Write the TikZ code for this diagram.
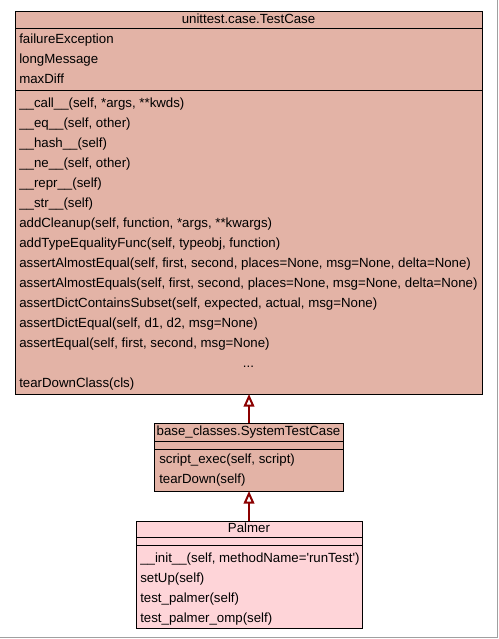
\documentclass[tikz,border=0pt]{standalone}
\usepackage{fontspec}
\setmainfont{Liberation Sans}
\usetikzlibrary{arrows.meta}
\definecolor{basefill}{RGB}{227,179,166}
\definecolor{palfill}{RGB}{254,212,216}
\definecolor{edgered}{RGB}{139,0,0}
\definecolor{framegray}{RGB}{160,160,160}
\begin{document}
\begin{tikzpicture}[x=0.75pt,y=-0.75pt,
  classbox/.style={draw=black, line width=0.75pt, anchor=north west, inner sep=0pt, outer sep=0pt},
  sep/.style={draw=black, line width=0.75pt},
  txt/.style={anchor=base west, inner sep=0pt, font=\fontsize{9.95pt}{11pt}\selectfont},
  ttl/.style={anchor=base, inner sep=0pt, font=\fontsize{9.95pt}{11pt}\selectfont},
  inherit/.style={draw=edgered, line width=1.5pt, -{Triangle[open, length=9.5pt, width=8pt, line width=1.5pt]}}
]
\useasboundingbox (0,0) rectangle (499,639);
\fill[white] (0,0) rectangle (499,639);
\draw[framegray, line width=0.75pt] (497.5,0) -- (497.5,637.5) -- (0,637.5);

% unittest.case.TestCase
\node[classbox, fill=basefill, minimum width=350.25pt, minimum height=287.25pt] (tc) at (15,11) {};
\draw[sep] (15,28) -- (482,28);
\draw[sep] (15,90) -- (482,90);
\node[ttl] (tct) at (248.5,23) {unittest.case.TestCase};
\node[txt] (a1) at (19,43) {failureException};
\node[txt] (a2) at (19,63) {longMessage};
\node[txt] (a3) at (19,83) {maxDiff};
\node[txt] (m1) at (19,107) {\_\_call\_\_(self, *args, **kwds)};
\node[txt] (m2) at (19,127) {\_\_eq\_\_(self, other)};
\node[txt] (m3) at (19,147) {\_\_hash\_\_(self)};
\node[txt] (m4) at (19,167) {\_\_ne\_\_(self, other)};
\node[txt] (m5) at (19,187) {\_\_repr\_\_(self)};
\node[txt] (m6) at (19,207) {\_\_str\_\_(self)};
\node[txt] (m7) at (19,227) {addCleanup(self, function, *args, **kwargs)};
\node[txt] (m8) at (19,247) {addTypeEqualityFunc(self, typeobj, function)};
\node[txt] (m9) at (19,267) {assertAlmostEqual(self, first, second, places=None, msg=None, delta=None)};
\node[txt] (m10) at (19,287) {assertAlmostEquals(self, first, second, places=None, msg=None, delta=None)};
\node[txt] (m11) at (19,307) {assertDictContainsSubset(self, expected, actual, msg=None)};
\node[txt] (m12) at (19,327) {assertDictEqual(self, d1, d2, msg=None)};
\node[txt] (m13) at (19,347) {assertEqual(self, first, second, msg=None)};
\node[ttl] (m14) at (248.5,367) {...};
\node[txt] (m15) at (19,387) {tearDownClass(cls)};

% base_classes.SystemTestCase
\node[classbox, fill=basefill, minimum width=141.75pt, minimum height=51pt] (stc) at (154,423) {};
\draw[sep] (154,441) -- (343,441);
\draw[sep] (154,449) -- (343,449);
\node[ttl] (stct) at (248.5,435) {base\_classes.SystemTestCase};
\node[txt] (s1) at (159,463) {script\_exec(self, script)};
\node[txt] (s2) at (159,483) {tearDown(self)};

% Palmer
\node[classbox, fill=palfill, minimum width=169.5pt, minimum height=80.25pt] (pal) at (136,521) {};
\draw[sep] (136,537) -- (362,537);
\draw[sep] (136,545) -- (362,545);
\node[ttl] (palt) at (249,532) {Palmer};
\node[txt] (p1) at (140,562) {\_\_init\_\_(self, methodName=\textquotesingle runTest\textquotesingle)};
\node[txt] (p2) at (140,582) {setUp(self)};
\node[txt] (p3) at (140,602) {test\_palmer(self)};
\node[txt] (p4) at (140,622) {test\_palmer\_omp(self)};

% inheritance
\draw[inherit] (stc.north -| 249,0) -- (tc.south -| 249,0);
\draw[inherit] (pal.north -| 249,0) -- (stc.south -| 249,0);
\end{tikzpicture}
\end{document}
